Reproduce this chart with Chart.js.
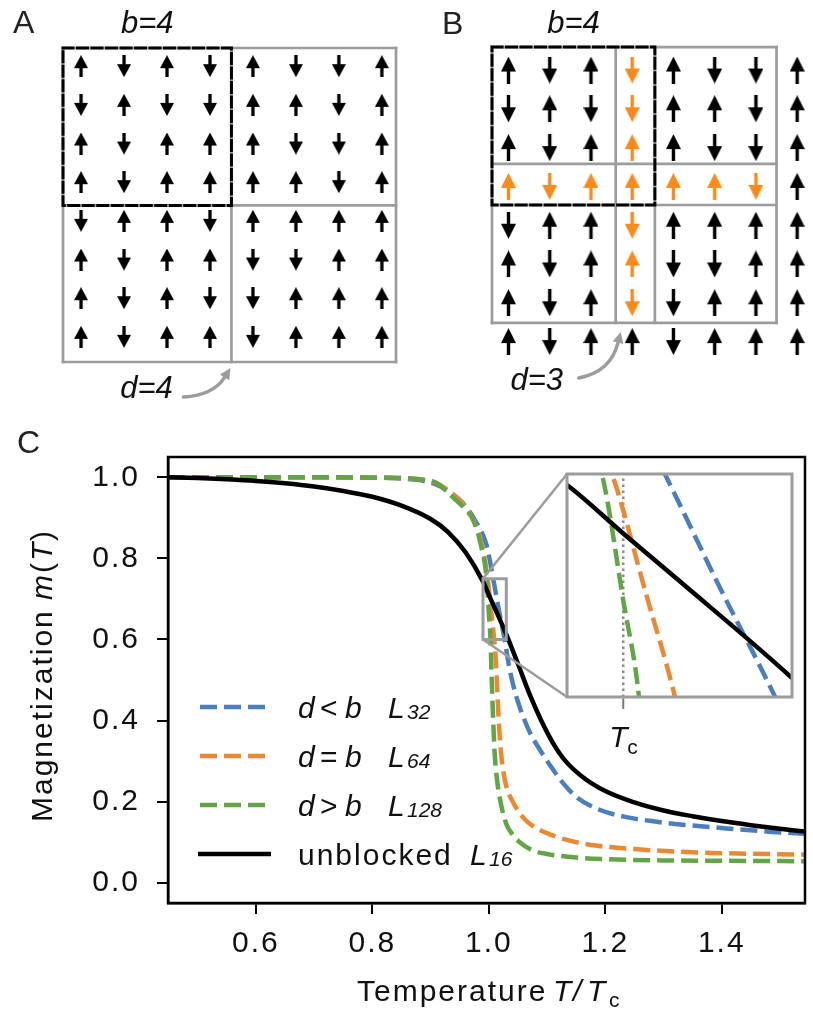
<!DOCTYPE html>
<html>
<head>
<meta charset="utf-8">
<title>Blocked spins and magnetization</title>
<script src="https://cdn.jsdelivr.net/npm/chart.js@4.4.1/dist/chart.umd.min.js"></script>
<style>
 html,body{margin:0;padding:0;background:#ffffff;}
 #fig{position:relative;width:813px;height:1012px;overflow:hidden;background:#ffffff;}
 #fig canvas{position:absolute;}
</style>
</head>
<body>
<div id="fig">
 <canvas id="panelA" width="410" height="410" style="left:0px;top:0px;width:410px;height:410px;"></canvas>
 <canvas id="panelB" width="403" height="410" style="left:410px;top:0px;width:403px;height:410px;"></canvas>
 <canvas id="panelC" width="813" height="602" style="left:0px;top:410px;width:813px;height:602px;"></canvas>
 <canvas id="panelInset" width="240" height="300" style="left:560px;top:465px;width:240px;height:300px;"></canvas>
</div>
<script>
// ================= DATA =================
// spin lattice (rows top -> bottom, +1 = up, -1 = down); panels A and B show the same lattice
const spins = [
  [ 1,-1, 1,-1,  1,-1,-1, 1],
  [-1, 1,-1,-1,  1, 1,-1, 1],
  [ 1,-1, 1, 1,  1,-1,-1, 1],
  [ 1,-1, 1, 1,  1, 1,-1, 1],
  [-1, 1, 1,-1,  1, 1, 1, 1],
  [ 1,-1, 1, 1, -1,-1, 1, 1],
  [ 1,-1, 1,-1, -1, 1, 1, 1],
  [ 1,-1, 1, 1, -1, 1, 1, 1]
];
// block boundaries (lattice units)
const gridEdgesAX = [-0.42, 3.5, 7.33];
const gridEdgesAY = [-0.47, 3.6, 7.65];
const blockAX = [-0.42, 3.5];
const blockAY = [-0.47, 3.6];
const gridEdgesBX = [-0.4, 2.6, 3.55, 6.5];
const gridEdgesBY = [-0.59, 2.42, 3.48, 6.52];
const blockBX = [-0.4, 3.55];
const blockBY = [-0.59, 3.48];
const sharedColB = 3, sharedRowB = 3, lastIndexB = 6;

// magnetization curves m(T) vs T/Tc
const tBlue   = [0.449,0.6,0.7,0.8,0.85,0.88,0.91,0.935,0.955,0.975,0.9966,1.0074,1.017,1.027,1.036,1.045,1.055,1.07,1.089,1.105,1.124,1.15,1.19,1.232,1.28,1.32,1.4,1.48,1.55];
const mBlue   = [1.0,1.0,1.0,0.999,0.997,0.993,0.982,0.962,0.937,0.897,0.83,0.75,0.675,0.60,0.525,0.47,0.425,0.372,0.325,0.29,0.252,0.212,0.18,0.163,0.152,0.145,0.135,0.126,0.12];
const tOrange = [0.449,0.6,0.7,0.8,0.85,0.88,0.91,0.935,0.955,0.975,0.988,0.998,1.004,1.0092,1.0115,1.014,1.017,1.021,1.026,1.032,1.04,1.05,1.062,1.08,1.107,1.15,1.187,1.25,1.32,1.4,1.55];
const mOrange = [1.0,1.0,1.0,0.999,0.998,0.995,0.986,0.962,0.935,0.89,0.835,0.75,0.67,0.60,0.56,0.49,0.40,0.32,0.265,0.228,0.203,0.178,0.156,0.136,0.118,0.10,0.091,0.083,0.077,0.073,0.069];
const tGreen  = [0.449,0.6,0.7,0.8,0.85,0.88,0.91,0.935,0.955,0.973,0.986,0.9962,1.0,1.0028,1.005,1.0075,1.01,1.014,1.02,1.03,1.043,1.053,1.075,1.1,1.15,1.2,1.3,1.4,1.55];
const mGreen  = [1.0,1.0,1.0,0.999,0.998,0.995,0.986,0.955,0.928,0.895,0.835,0.75,0.665,0.60,0.50,0.40,0.32,0.255,0.20,0.145,0.115,0.10,0.08,0.071,0.062,0.058,0.055,0.054,0.053];
const tBlack  = [0.449,0.5,0.55,0.6,0.65,0.7,0.75,0.8,0.85,0.9,0.93,0.96,0.99,1.0,1.01,1.03,1.05,1.07,1.09,1.11,1.13,1.16,1.2,1.25,1.3,1.35,1.4,1.45,1.5,1.55];
const mBlack  = [1.0,0.998,0.995,0.991,0.985,0.977,0.966,0.952,0.93,0.897,0.865,0.815,0.7426,0.71,0.678,0.6128,0.54,0.465,0.40,0.345,0.303,0.262,0.226,0.198,0.178,0.164,0.152,0.142,0.133,0.125];

const xTicks = [0.6, 0.8, 1.0, 1.2, 1.4];
const yTicks = [0.0, 0.2, 0.4, 0.6, 0.8, 1.0];
const insetRangeX = [0.99, 1.03];
const insetRangeY = [0.60, 0.75];
const tcValue = [1.0];

// legend labels (segments: text, italic, subscript)
const labelBlue   = [{t:'d',it:1,dx:0},{t:'<',dx:22},{t:'b',it:1,dx:47},{t:'L',it:1,dx:90},{t:'32',it:1,dx:109,size:21,dy:1}];
const labelOrange = [{t:'d',it:1,dx:0},{t:'=',dx:22},{t:'b',it:1,dx:47},{t:'L',it:1,dx:90},{t:'64',it:1,dx:109,size:21,dy:1}];
const labelGreen  = [{t:'d',it:1,dx:0},{t:'>',dx:22},{t:'b',it:1,dx:47},{t:'L',it:1,dx:90},{t:'128',it:1,dx:109,size:21,dy:1}];
const labelBlack  = [{t:'unblocked',dx:0,sp:2},{t:'L',it:1,dx:172},{t:'16',it:1,dx:191,size:21,dy:1}];

// ================= STYLE =================
const FONT = "'Liberation Sans', Arial, Helvetica, sans-serif";
const COL = {blue:'#4a7ebf', orange:'#ec8833', green:'#62a545', black:'#000000',
             gray:'#9c9c9c', spinOrange:'#fb8a1c', text:'#111111', panel:'#222222'};
const DASH = [17, 7];
const LW = 4.5;
// page geometry of the inset box (for the connector lines)
const PAGE = {cTop:410, cLeft:0, insetLeft:567, insetTop:474, insetBottom:697};

Chart.defaults.font.family = FONT;

// ================= HELPERS =================
const pts = (xs, ys) => xs.map((x, i) => ({x: x, y: ys[i]}));

function richText(ctx, segs, x, y, color) {
  ctx.save();
  ctx.fillStyle = color || COL.text;
  ctx.textAlign = 'left';
  ctx.textBaseline = 'alphabetic';
  for (const s of segs) {
    ctx.font = (s.it ? 'italic ' : '') + (s.size || 30) + 'px ' + FONT;
    ctx.letterSpacing = (s.sp || 0) + 'px';
    ctx.fillText(s.t, x + s.dx, y + (s.dy || 0));
  }
  ctx.restore();
}

function makeArrow(color, up, W, H, headH, shaftW) {
  const c = document.createElement('canvas');
  c.width = W; c.height = H;
  const g = c.getContext('2d');
  g.fillStyle = color;
  g.beginPath();
  if (up) {
    g.moveTo(W / 2, 0); g.lineTo(W, headH); g.lineTo(0, headH); g.closePath(); g.fill();
    g.fillRect(W / 2 - shaftW / 2, headH - 0.5, shaftW, H - headH + 0.5);
  } else {
    g.moveTo(W / 2, H); g.lineTo(W, H - headH); g.lineTo(0, H - headH); g.closePath(); g.fill();
    g.fillRect(W / 2 - shaftW / 2, 0, shaftW, H - headH + 0.5);
  }
  return c;
}
const arrowA = {up: makeArrow('#000', true, 14, 22, 13, 3.3), down: makeArrow('#000', false, 14, 22, 13, 3.3)};
const arrowB = {
  up: makeArrow('#000', true, 15, 27, 15, 3.4), down: makeArrow('#000', false, 15, 27, 15, 3.4),
  upO: makeArrow(COL.spinOrange, true, 15, 27, 15, 3.4), downO: makeArrow(COL.spinOrange, false, 15, 27, 15, 3.4)
};

function latticePoints() {
  const out = [];
  spins.forEach((row, j) => row.forEach((s, i) => out.push({x: i, y: j, s: s})));
  return out;
}
function segDS(data, color, width, dash) {
  return {data: data, showLine: true, borderColor: color, backgroundColor: color, borderWidth: width,
          borderDash: dash || [], borderCapStyle: 'square', borderJoinStyle: 'miter',
          pointRadius: 0, pointHoverRadius: 0, fill: false, tension: 0, clip: false};
}
function gridDatasets(ex, ey) {
  const ds = [];
  ex.forEach(e => ds.push(segDS([{x: e, y: ey[0]}, {x: e, y: ey[ey.length - 1]}], COL.gray, 2.7)));
  ey.forEach(e => ds.push(segDS([{x: ex[0], y: e}, {x: ex[ex.length - 1], y: e}], COL.gray, 2.7)));
  return ds;
}
function boxPoints(bx, by) {
  return [{x: bx[0], y: by[0]}, {x: bx[1], y: by[0]}, {x: bx[1], y: by[1]}, {x: bx[0], y: by[1]}, {x: bx[0], y: by[0]}];
}

function latticeDeco(cfg) {
  return {
    id: 'deco' + cfg.name,
    afterDraw(chart) {
      const {ctx, scales: {x, y}} = chart;
      ctx.save();
      ctx.fillStyle = COL.panel; ctx.font = '32px ' + FONT; ctx.textAlign = 'left'; ctx.textBaseline = 'alphabetic';
      ctx.fillText(cfg.name, cfg.labelX, cfg.labelY);
      ctx.fillStyle = COL.text; ctx.font = 'italic 31px ' + FONT; ctx.textAlign = 'center';
      const cx = (x.getPixelForValue(cfg.blockX[0]) + x.getPixelForValue(cfg.blockX[1])) / 2;
      ctx.fillText(cfg.bText, cx, cfg.bBaseline);
      const tip = {x: x.getPixelForValue(cfg.tipX) + cfg.tipD[0], y: y.getPixelForValue(cfg.tipY) + cfg.tipD[1]};
      ctx.fillText(cfg.dText, tip.x + cfg.dLabelDx, cfg.dBaseline);
      const tail = {x: tip.x + cfg.tail[0], y: tip.y + cfg.tail[1]};
      const ctrl = {x: tip.x + cfg.ctrl[0], y: tip.y + cfg.ctrl[1]};
      const ang = Math.atan2(tip.y - ctrl.y, tip.x - ctrl.x);
      const hl = 11, hw = 5.5;
      const base = {x: tip.x - hl * Math.cos(ang), y: tip.y - hl * Math.sin(ang)};
      ctx.strokeStyle = COL.gray; ctx.fillStyle = COL.gray; ctx.lineWidth = 3.5; ctx.lineCap = 'round';
      ctx.beginPath(); ctx.moveTo(tail.x, tail.y); ctx.quadraticCurveTo(ctrl.x, ctrl.y, base.x, base.y); ctx.stroke();
      ctx.beginPath();
      ctx.moveTo(tip.x, tip.y);
      ctx.lineTo(base.x + hw * Math.sin(ang), base.y - hw * Math.cos(ang));
      ctx.lineTo(base.x - hw * Math.sin(ang), base.y + hw * Math.cos(ang));
      ctx.closePath(); ctx.fill();
      ctx.restore();
    }
  };
}

function latticeChart(id, cfg) {
  const arrows = {
    data: latticePoints(), showLine: false, pointRadius: 10, pointHoverRadius: 10, clip: false,
    pointStyle: c => cfg.arrowFor(c.raw)
  };
  return new Chart(document.getElementById(id), {
    type: 'scatter',
    data: {datasets: [segDS(boxPoints(cfg.blockX, cfg.blockY), '#000', 3, [10, 4.5]), arrows].concat(gridDatasets(cfg.edgesX, cfg.edgesY))},
    options: {
      responsive: false, animation: false, devicePixelRatio: 1, events: [],
      layout: {padding: cfg.pad},
      scales: {
        x: {type: 'linear', display: false, min: cfg.xr[0], max: cfg.xr[1]},
        y: {type: 'linear', display: false, min: cfg.yr[0], max: cfg.yr[1], reverse: true}
      },
      plugins: {legend: {display: false}, tooltip: {enabled: false}}
    },
    plugins: [latticeDeco(cfg)]
  });
}

// ================= PANEL A =================
latticeChart('panelA', {
  name: 'A', labelX: 13, labelY: 33,
  edgesX: gridEdgesAX, edgesY: gridEdgesAY, blockX: blockAX, blockY: blockAY,
  pad: {left: 63, right: 14, top: 48, bottom: 48},
  xr: [-0.42, 7.33], yr: [-0.47, 7.65],
  arrowFor: p => p.s > 0 ? arrowA.up : arrowA.down,
  bText: 'b=4', bBaseline: 33,
  tipX: 3.5, tipY: gridEdgesAY[gridEdgesAY.length - 1], tipD: [-1, 6],
  dText: 'd=4', dLabelDx: -84, dBaseline: 398, tail: [-47, 29], ctrl: [-17, 27]
});

// ================= PANEL B =================
latticeChart('panelB', {
  name: 'B', labelX: 32, labelY: 34,
  edgesX: gridEdgesBX, edgesY: gridEdgesBY, blockX: blockBX, blockY: blockBY,
  pad: {left: 82, right: 0, top: 47, bottom: 48},
  xr: [-0.4, 7.118], yr: [-0.593, 7.526],
  arrowFor: p => {
    const shared = (p.x === sharedColB && p.y <= lastIndexB) || (p.y === sharedRowB && p.x <= lastIndexB);
    if (shared) return p.s > 0 ? arrowB.upO : arrowB.downO;
    return p.s > 0 ? arrowB.up : arrowB.down;
  },
  bText: 'b=4', bBaseline: 33,
  tipX: 2.6, tipY: gridEdgesBY[gridEdgesBY.length - 1], tipD: [5, 9],
  dText: 'd=3', dLabelDx: -84, dBaseline: 390, tail: [-42, 46], ctrl: [-10, 40]
});

// ================= PANEL C =================
function curveDS(xs, ys, color, dash, clip) {
  return {data: pts(xs, ys), borderColor: color, backgroundColor: color, borderWidth: LW,
          borderDash: dash, borderCapStyle: 'butt', pointRadius: 0, pointHoverRadius: 0,
          fill: false, cubicInterpolationMode: 'monotone', clip: clip};
}
const series = [
  {key: 'blue',   xs: tBlue,   ys: mBlue,   color: COL.blue,   dash: DASH, label: labelBlue},
  {key: 'orange', xs: tOrange, ys: mOrange, color: COL.orange, dash: DASH, label: labelOrange},
  {key: 'green',  xs: tGreen,  ys: mGreen,  color: COL.green,  dash: DASH, label: labelGreen},
  {key: 'black',  xs: tBlack,  ys: mBlack,  color: COL.black,  dash: [],   label: labelBlack}
];
// drawing order: first dataset is on top
const drawOrder = ['black', 'green', 'orange', 'blue'];
const byKey = k => series.find(s => s.key === k);

const insetRect = [
  {x: insetRangeX[0], y: insetRangeY[0]}, {x: insetRangeX[1], y: insetRangeY[0]},
  {x: insetRangeX[1], y: insetRangeY[1]}, {x: insetRangeX[0], y: insetRangeY[1]},
  {x: insetRangeX[0], y: insetRangeY[0]}
];

const spacingPlugin = {
  id: 'spacing',
  beforeUpdate(chart) { chart.ctx.letterSpacing = '2px'; },
  beforeDraw(chart) { chart.ctx.letterSpacing = '2px'; }
};

const mainDeco = {
  id: 'mainDeco',
  afterDatasetsDraw(chart) {
    const {ctx, scales: {x, y}} = chart;
    const ix = PAGE.insetLeft - PAGE.cLeft, it = PAGE.insetTop - PAGE.cTop, ib = PAGE.insetBottom - PAGE.cTop;
    ctx.save();
    ctx.strokeStyle = COL.gray; ctx.lineWidth = 2.5; ctx.setLineDash([]);
    ctx.beginPath();
    ctx.moveTo(x.getPixelForValue(insetRangeX[0]), y.getPixelForValue(insetRangeY[1])); ctx.lineTo(ix, it);
    ctx.moveTo(x.getPixelForValue(insetRangeX[0]), y.getPixelForValue(insetRangeY[0])); ctx.lineTo(ix, ib);
    ctx.stroke();
    ctx.restore();
  },
  afterDraw(chart) {
    const {ctx, chartArea: a} = chart;
    ctx.save();
    ctx.letterSpacing = '0px';
    ctx.strokeStyle = '#000'; ctx.lineWidth = 2.5; ctx.setLineDash([]);
    ctx.strokeRect(a.left, a.top, a.right - a.left, a.bottom - a.top);
    // legend
    const L = {x0: 200, x1: 268, y0: 297, dy: 49, tx: 298};
    series.forEach((s, k) => {
      const yy = L.y0 + k * L.dy;
      ctx.strokeStyle = s.color; ctx.lineWidth = LW; ctx.lineCap = 'butt';
      ctx.setLineDash(s.dash);
      ctx.beginPath();
      if (s.dash.length) { ctx.moveTo(L.x0, yy); ctx.lineTo(L.x1, yy); }
      else { ctx.moveTo(L.x0 - 2, yy); ctx.lineTo(L.x1 + 3, yy); }
      ctx.stroke();
      ctx.setLineDash([]);
      richText(ctx, s.label, L.tx, yy + 11, COL.text);
    });
    // axis titles
    richText(ctx, [{t: 'Temperature', dx: 0, sp: 2}, {t: 'T', it: 1, dx: 196}, {t: '/', it: 1, dx: 216},
                   {t: 'T', it: 1, dx: 230}, {t: 'c', dx: 252, size: 21, dy: 6}], 357, 591, COL.text);
    ctx.save();
    ctx.translate(52, 412);
    ctx.rotate(-Math.PI / 2);
    richText(ctx, [{t: 'Magnetization', dx: 0, sp: 2}, {t: 'm', it: 1, dx: 222}, {t: '(', dx: 249},
                   {t: 'T', it: 1, dx: 261}, {t: ')', dx: 281}], 0, 0, COL.text);
    ctx.restore();
    // panel label
    ctx.fillStyle = COL.panel; ctx.font = '32px ' + FONT; ctx.textAlign = 'left'; ctx.textBaseline = 'alphabetic';
    ctx.fillText('C', 17, 43);
    ctx.restore();
  }
};

new Chart(document.getElementById('panelC'), {
  type: 'line',
  data: {
    datasets: [segDS(insetRect, COL.gray, 3)].concat(
      drawOrder.map(k => { const s = byKey(k); return curveDS(s.xs, s.ys, s.color, s.dash, undefined); }))
  },
  options: {
    responsive: false, animation: false, devicePixelRatio: 1, events: [],
    layout: {padding: {left: 0, right: 8, top: 47, bottom: 0}},
    scales: {
      x: {
        type: 'linear', min: 0.449, max: 1.543,
        grid: {display: true, drawOnChartArea: false, drawTicks: true, tickLength: 11, lineWidth: 2, tickWidth: 2, tickColor: '#000', color: '#000'},
        border: {display: true, color: '#000', width: 2.5},
        ticks: {font: {family: FONT, size: 30}, color: COL.text, padding: 12, maxRotation: 0, autoSkip: false,
                callback: v => Number(v).toFixed(1)},
        afterBuildTicks: s => { s.ticks = xTicks.map(v => ({value: v})); },
        afterFit: s => { s.height = 109; }
      },
      y: {
        type: 'linear', min: -0.05, max: 1.05,
        grid: {display: true, drawOnChartArea: false, drawTicks: true, tickLength: 11, lineWidth: 2, tickWidth: 2, tickColor: '#000', color: '#000'},
        border: {display: true, color: '#000', width: 2.5},
        ticks: {font: {family: FONT, size: 30}, color: COL.text, padding: 17, autoSkip: false,
                callback: v => Number(v).toFixed(1)},
        afterBuildTicks: s => { s.ticks = yTicks.map(v => ({value: v})); },
        afterFit: s => { s.width = 168; }
      }
    },
    plugins: {legend: {display: false}, tooltip: {enabled: false}}
  },
  plugins: [spacingPlugin, mainDeco]
});

// ================= INSET =================
const insetDeco = {
  id: 'insetDeco',
  beforeDatasetsDraw(chart) {
    const {ctx, chartArea: a} = chart;
    ctx.save(); ctx.fillStyle = '#ffffff'; ctx.fillRect(a.left, a.top, a.right - a.left, a.bottom - a.top); ctx.restore();
  },
  afterDraw(chart) {
    const {ctx, chartArea: a, scales: {x}} = chart;
    ctx.save();
    ctx.strokeStyle = COL.gray; ctx.lineWidth = 3; ctx.setLineDash([]);
    ctx.strokeRect(a.left, a.top, a.right - a.left, a.bottom - a.top);
    const px = x.getPixelForValue(tcValue[0]);
    ctx.strokeStyle = '#7a7a7a'; ctx.lineWidth = 2;
    ctx.beginPath(); ctx.moveTo(px, a.bottom + 1.5); ctx.lineTo(px, a.bottom + 12); ctx.stroke();
    richText(ctx, [{t: 'T', it: 1, dx: -14}, {t: 'c', dx: 4, size: 21, dy: 7}], px, a.bottom + 49.5, COL.text);
    ctx.restore();
  }
};

new Chart(document.getElementById('panelInset'), {
  type: 'line',
  data: {
    datasets: drawOrder.map(k => { const s = byKey(k); return curveDS(s.xs, s.ys, s.color, s.dash, 0); })
      .concat([{data: tcValue.flatMap(v => [{x: v, y: insetRangeY[0]}, {x: v, y: insetRangeY[1]}]),
                borderColor: '#8a8a8a', borderWidth: 2.5, borderDash: [2.5, 3.5], pointRadius: 0, pointHoverRadius: 0,
                fill: false, tension: 0, clip: 0}])
  },
  options: {
    responsive: false, animation: false, devicePixelRatio: 1, events: [],
    layout: {padding: {left: 7, right: 8, top: 9, bottom: 68}},
    scales: {
      x: {type: 'linear', display: false, min: insetRangeX[0], max: insetRangeX[1]},
      y: {type: 'linear', display: false, min: insetRangeY[0], max: insetRangeY[1]}
    },
    plugins: {legend: {display: false}, tooltip: {enabled: false}}
  },
  plugins: [insetDeco]
});
</script>
</body>
</html>
